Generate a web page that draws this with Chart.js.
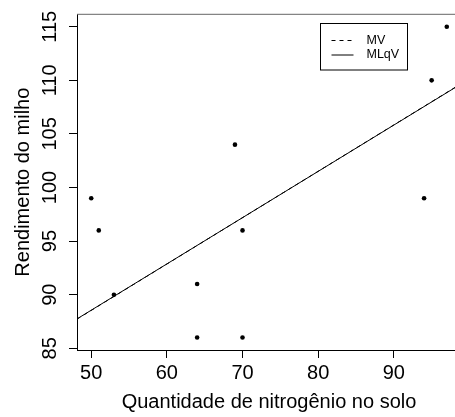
<!DOCTYPE html>
<html>
<head>
<meta charset="utf-8">
<script src="https://cdn.jsdelivr.net/npm/chart.js@4/dist/chart.umd.min.js"></script>
<style>
  html, body { margin: 0; padding: 0; background: #fff; overflow: hidden; }
  #wrap { width: 455px; height: 417px; overflow: hidden; }
</style>
</head>
<body>
<div id="wrap"><canvas id="grafico" width="465" height="417"></canvas></div>
<script>
// Dados
const nitrogenio = [50, 51, 53, 64, 64, 69, 70, 70, 94, 95, 97];
const rendimento = [99, 96, 90, 91, 86, 104, 96, 86, 99, 110, 115];

const retaX = [48.12, 98.88];
const retaMV = [87.72, 109.68];
const retaMLqV = [87.74, 109.66];

const ticksX = [50, 60, 70, 80, 90];
const ticksY = [85, 90, 95, 100, 105, 110, 115];

const fonte = "'Liberation Sans', Arial, Helvetica, sans-serif";

// caixa superior + legenda no estilo do R
const caixaLegenda = {
  id: "caixaLegenda",
  afterDraw(chart) {
    const ctx = chart.ctx;
    const area = chart.chartArea;
    ctx.save();
    ctx.strokeStyle = "#666";
    ctx.lineWidth = 1;
    ctx.beginPath();
    ctx.moveTo(area.left, area.top);
    ctx.lineTo(area.right, area.top);
    ctx.stroke();

    // legenda
    const lx = 320.5, ly = 23.5, lw = 87, lh = 46.5;
    ctx.strokeStyle = "#000";
    ctx.strokeRect(lx, ly, lw, lh);
    const linhas = chart.data.datasets.filter((d) => d.type === "line");
    linhas.forEach((d, i) => {
      const y = 40.5 + i * 14.5;
      ctx.strokeStyle = d.borderColor;
      ctx.setLineDash(d.borderDash || []);
      ctx.beginPath();
      ctx.moveTo(331.5, y);
      ctx.lineTo(353.5, y);
      ctx.stroke();
      ctx.setLineDash([]);
      ctx.fillStyle = "#000";
      ctx.font = "12.5px " + fonte;
      ctx.textBaseline = "middle";
      ctx.textAlign = "left";
      ctx.fillText(d.label, 366.5, y);
    });
    ctx.restore();
  },
};

const grafico = new Chart(document.getElementById("grafico"), {
  data: {
    datasets: [
      {
        type: "scatter",
        label: "dados",
        data: nitrogenio.map((x, i) => ({ x: x, y: rendimento[i] })),
        pointRadius: 2.3,
        pointBackgroundColor: "#000",
        pointBorderWidth: 0,
      },
      {
        type: "line",
        label: "MV",
        data: retaX.map((x, i) => ({ x: x, y: retaMV[i] })),
        borderColor: "#000",
        borderWidth: 1,
        borderDash: [4, 4],
        pointRadius: 0,
        fill: false,
      },
      {
        type: "line",
        label: "MLqV",
        data: retaX.map((x, i) => ({ x: x, y: retaMLqV[i] })),
        borderColor: "#000",
        borderWidth: 1,
        pointRadius: 0,
        fill: false,
      },
    ],
  },
  options: {
    responsive: false,
    animation: false,
    devicePixelRatio: 1,
    layout: { padding: { top: 10.5, right: 0, bottom: 0, left: 0 } },
    plugins: { legend: { display: false }, tooltip: { enabled: false } },
    scales: {
      x: {
        type: "linear",
        min: 48.12,
        max: 98.88,
        afterBuildTicks: (s) => { s.ticks = ticksX.map((v) => ({ value: v })); },
        afterFit: (s) => { s.height = 67; },
        grid: { drawOnChartArea: false, drawTicks: true, tickLength: 8, tickColor: "#000" },
        border: { display: true, color: "#000", width: 1 },
        ticks: { color: "#000", padding: 3, font: { family: fonte, size: 20 }, maxRotation: 0 },
        title: {
          display: true,
          text: "Quantidade de nitrogênio no solo",
          color: "#000",
          font: { family: fonte, size: 20 },
          padding: { top: 0, bottom: 2.5 },
        },
      },
      y: {
        type: "linear",
        min: 84.84,
        max: 116.16,
        afterBuildTicks: (s) => { s.ticks = ticksY.map((v) => ({ value: v })); },
        afterFit: (s) => { s.width = 77; },
        grid: { drawOnChartArea: false, drawTicks: true, tickLength: 8, tickColor: "#000" },
        border: { display: true, color: "#000", width: 1 },
        ticks: {
          color: "#000",
          padding: 2.3,
          crossAlign: "center",
          minRotation: 90,
          maxRotation: 90,
          font: { family: fonte, size: 20 },
        },
        title: {
          display: true,
          text: "Rendimento do milho",
          color: "#000",
          font: { family: fonte, size: 20 },
          padding: { top: 11, bottom: 0 },
        },
      },
    },
  },
  plugins: [caixaLegenda],
});
</script>
</body>
</html>
